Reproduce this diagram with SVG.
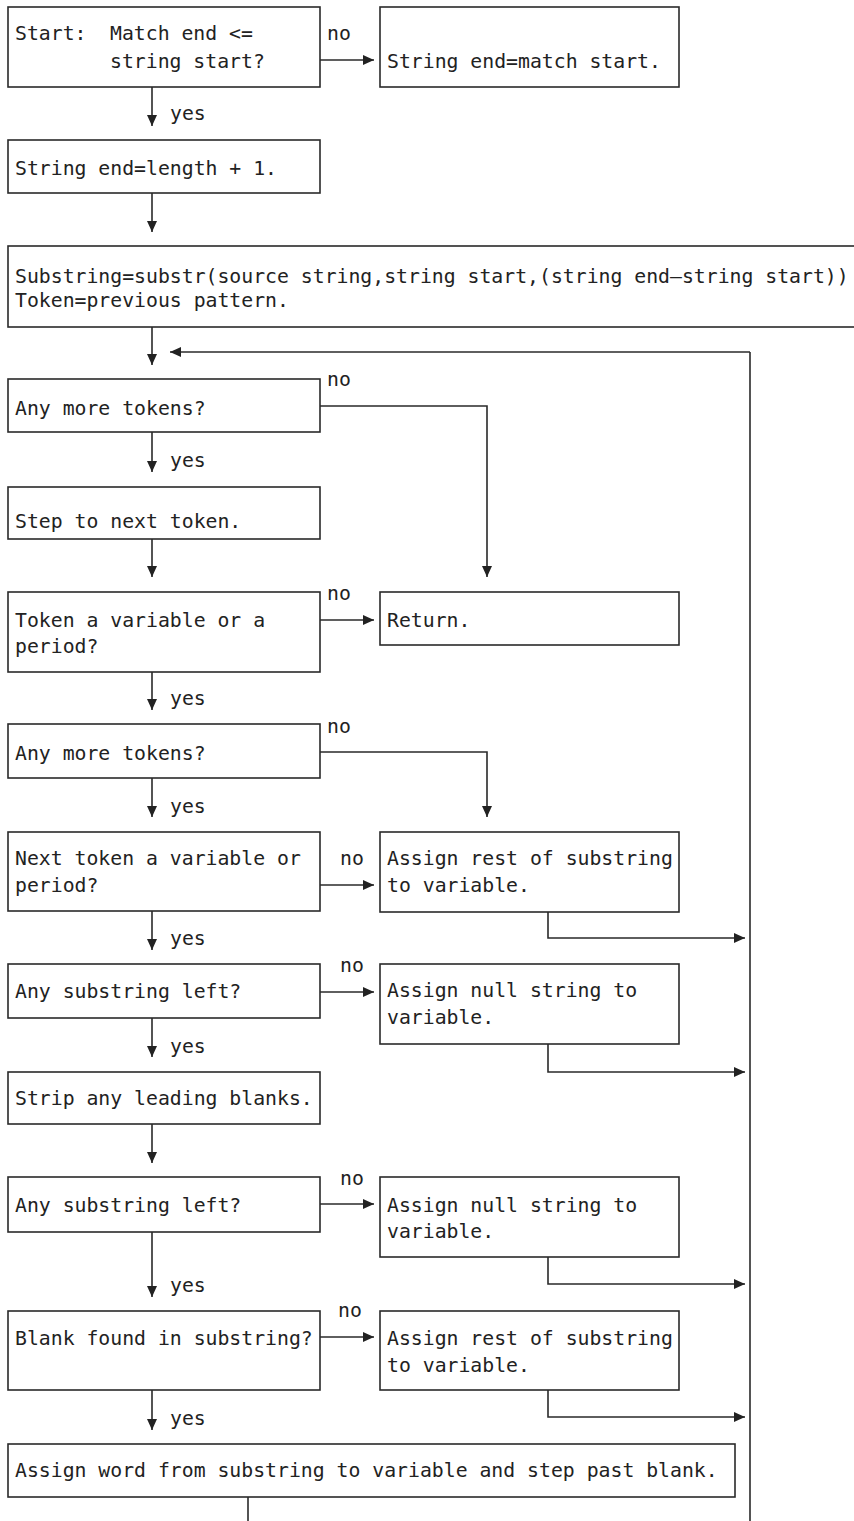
<svg xmlns="http://www.w3.org/2000/svg" width="854" height="1521" viewBox="0 0 854 1521">
<style>
.box{fill:#fff;stroke:#2a2a2a;stroke-width:1.6}
.t{font-family:"DejaVu Sans Mono","Liberation Mono",monospace;font-size:19.8px;fill:#222}
.c{fill:none;stroke:#2a2a2a;stroke-width:1.6}
.a{fill:none;stroke:#2a2a2a;stroke-width:1.6;marker-end:url(#ah)}
</style>
<defs>
<marker id="ah" viewBox="0 0 11 10" refX="11" refY="5" markerWidth="11" markerHeight="10" markerUnits="userSpaceOnUse" orient="auto">
<path d="M0,0 L11,5 L0,10 z" fill="#222"/>
</marker>
</defs>
<rect width="854" height="1521" fill="#fff"/>
<g id="connectors">
<line class="a" x1="320" y1="60" x2="374" y2="60"/>
<line class="a" x1="152" y1="87" x2="152" y2="126"/>
<line class="a" x1="152" y1="193" x2="152" y2="232"/>
<line class="a" x1="152" y1="327" x2="152" y2="365"/>
<polyline class="c" points="750,1521 750,352"/>
<line class="a" x1="750" y1="352" x2="170" y2="352"/>
<polyline class="a" points="320,406 487,406 487,577"/>
<line class="a" x1="152" y1="432" x2="152" y2="472"/>
<line class="a" x1="152" y1="539" x2="152" y2="577"/>
<line class="a" x1="320" y1="620" x2="374" y2="620"/>
<line class="a" x1="152" y1="672" x2="152" y2="710"/>
<polyline class="a" points="320,752 487,752 487,817"/>
<line class="a" x1="152" y1="778" x2="152" y2="817"/>
<line class="a" x1="320" y1="885" x2="374" y2="885"/>
<polyline class="a" points="548,912 548,938 745,938"/>
<line class="a" x1="152" y1="911" x2="152" y2="950"/>
<line class="a" x1="320" y1="992" x2="374" y2="992"/>
<polyline class="a" points="548,1044 548,1072 745,1072"/>
<line class="a" x1="152" y1="1018" x2="152" y2="1057"/>
<line class="a" x1="152" y1="1124" x2="152" y2="1163"/>
<line class="a" x1="320" y1="1204" x2="374" y2="1204"/>
<polyline class="a" points="548,1257 548,1284 745,1284"/>
<line class="a" x1="152" y1="1232" x2="152" y2="1297"/>
<line class="a" x1="320" y1="1337" x2="374" y2="1337"/>
<polyline class="a" points="548,1390 548,1417 745,1417"/>
<line class="a" x1="152" y1="1390" x2="152" y2="1430"/>
<line class="c" x1="248" y1="1497" x2="248" y2="1521"/>
</g>
<g id="labels">
<text class="t" x="327" y="40">no</text>
<text class="t" x="170" y="120">yes</text>
<text class="t" x="327" y="386">no</text>
<text class="t" x="170" y="467">yes</text>
<text class="t" x="327" y="600">no</text>
<text class="t" x="170" y="705">yes</text>
<text class="t" x="327" y="733">no</text>
<text class="t" x="170" y="813">yes</text>
<text class="t" x="340" y="865">no</text>
<text class="t" x="170" y="945">yes</text>
<text class="t" x="340" y="972">no</text>
<text class="t" x="170" y="1053">yes</text>
<text class="t" x="340" y="1185">no</text>
<text class="t" x="170" y="1292">yes</text>
<text class="t" x="338" y="1317">no</text>
<text class="t" x="170" y="1425">yes</text>
</g>
<g id="n-start"><rect class="box" x="8" y="7" width="312" height="80"/><text class="t" x="15" y="40">Start:</text><text class="t" x="110" y="40">Match end &lt;=</text><text class="t" x="110" y="68">string start?</text></g>
<g id="n-endmatch"><rect class="box" x="380" y="7" width="299" height="80"/><text class="t" x="387" y="68">String end=match start.</text></g>
<g id="n-endlen"><rect class="box" x="8" y="140" width="312" height="53"/><text class="t" x="15" y="175">String end=length + 1.</text></g>
<g id="n-substr"><rect class="box" x="8" y="246" width="870" height="81"/><text class="t" x="15" y="283">Substring=substr(source string,string start,(string end—string start))</text><text class="t" x="15" y="307">Token=previous pattern.</text></g>
<g id="n-more1"><rect class="box" x="8" y="379" width="312" height="53"/><text class="t" x="15" y="415">Any more tokens?</text></g>
<g id="n-step"><rect class="box" x="8" y="487" width="312" height="52"/><text class="t" x="15" y="528">Step to next token.</text></g>
<g id="n-tokvar"><rect class="box" x="8" y="592" width="312" height="80"/><text class="t" x="15" y="627">Token a variable or a</text><text class="t" x="15" y="653">period?</text></g>
<g id="n-return"><rect class="box" x="380" y="592" width="299" height="53"/><text class="t" x="387" y="627">Return.</text></g>
<g id="n-more2"><rect class="box" x="8" y="724" width="312" height="54"/><text class="t" x="15" y="760">Any more tokens?</text></g>
<g id="n-nexttok"><rect class="box" x="8" y="832" width="312" height="79"/><text class="t" x="15" y="865">Next token a variable or</text><text class="t" x="15" y="892">period?</text></g>
<g id="n-rest1"><rect class="box" x="380" y="832" width="299" height="80"/><text class="t" x="387" y="865">Assign rest of substring</text><text class="t" x="387" y="892">to variable.</text></g>
<g id="n-left1"><rect class="box" x="8" y="964" width="312" height="54"/><text class="t" x="15" y="998">Any substring left?</text></g>
<g id="n-null1"><rect class="box" x="380" y="964" width="299" height="80"/><text class="t" x="387" y="997">Assign null string to</text><text class="t" x="387" y="1024">variable.</text></g>
<g id="n-strip"><rect class="box" x="8" y="1072" width="312" height="52"/><text class="t" x="15" y="1105">Strip any leading blanks.</text></g>
<g id="n-left2"><rect class="box" x="8" y="1177" width="312" height="55"/><text class="t" x="15" y="1212">Any substring left?</text></g>
<g id="n-null2"><rect class="box" x="380" y="1177" width="299" height="80"/><text class="t" x="387" y="1212">Assign null string to</text><text class="t" x="387" y="1238">variable.</text></g>
<g id="n-blank"><rect class="box" x="8" y="1311" width="312" height="79"/><text class="t" x="15" y="1345">Blank found in substring?</text></g>
<g id="n-rest2"><rect class="box" x="380" y="1311" width="299" height="79"/><text class="t" x="387" y="1345">Assign rest of substring</text><text class="t" x="387" y="1372">to variable.</text></g>
<g id="n-word"><rect class="box" x="8" y="1444" width="727" height="53"/><text class="t" x="15" y="1477">Assign word from substring to variable and step past blank.</text></g>
</svg>
